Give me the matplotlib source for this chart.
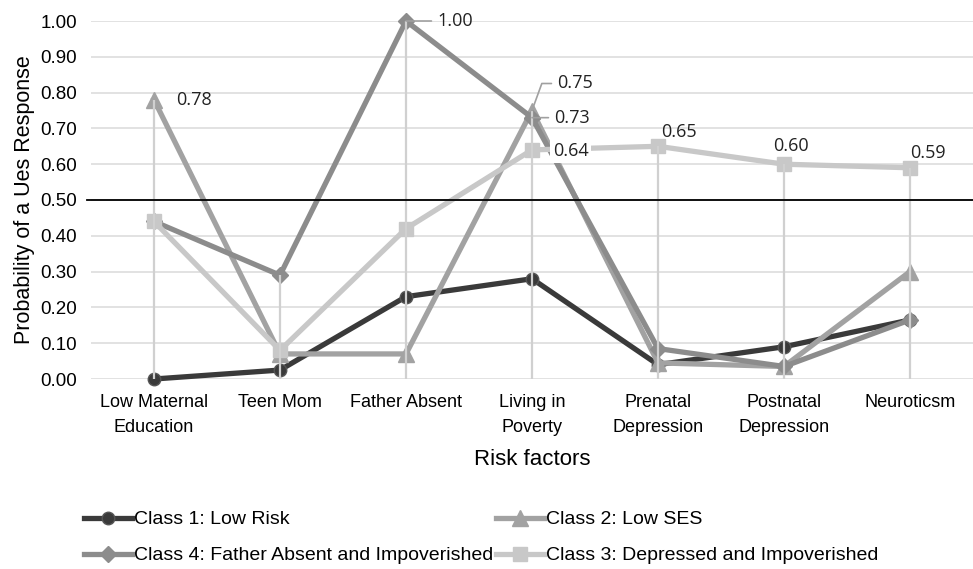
import matplotlib
matplotlib.use("Agg")
import matplotlib.pyplot as plt
from matplotlib import font_manager as fm

categories = ["Low Maternal\nEducation", "Teen Mom", "Father Absent", "Living in\nPoverty",
              "Prenatal\nDepression", "Postnatal\nDepression", "Neuroticsm"]
class1 = [0.00, 0.025, 0.23, 0.28, 0.04, 0.09, 0.165]
class2 = [0.78, 0.07, 0.07, 0.75, 0.045, 0.035, 0.30]
class4 = [0.44, 0.29, 1.00, 0.73, 0.085, 0.035, 0.165]
class3 = [0.44, 0.08, 0.42, 0.64, 0.65, 0.60, 0.59]
yticks = [0.0, 0.1, 0.2, 0.3, 0.4, 0.5, 0.6, 0.7, 0.8, 0.9, 1.0]
threshold = 0.50

names = {f.name for f in fm.fontManager.ttflist}
tick_font = "Liberation Sans" if "Liberation Sans" in names else "DejaVu Sans"
leg_font = "Liberation Sans Narrow" if "Liberation Sans Narrow" in names else tick_font
lab_font = "Open Sans" if "Open Sans" in names else "DejaVu Sans"

fig = plt.figure(figsize=(9.73, 5.69), dpi=100)
ax = fig.add_axes([91/973, 1-379/569, 1-91/973, (379-21)/569])
x = list(range(len(categories)))

for yv in yticks:
    ax.axhline(yv, color="#e2e2e2", lw=1.4, zorder=0)

c1 = "#3a3a3a"; c2 = "#a2a2a2"; c4 = "#8c8c8c"; c3 = "#c8c8c8"
lw = 3.8
l1, = ax.plot(x, class1, color=c1, lw=lw, marker="o", ms=9, mec="#555555", mfc=c1, clip_on=False, zorder=3, label="Class 1: Low Risk")
l2, = ax.plot(x, class2, color=c2, lw=lw, marker="^", ms=11, mec=c2, mfc=c2, clip_on=False, zorder=3, label="Class 2: Low SES")
l4, = ax.plot(x, class4, color=c4, lw=lw, marker="D", ms=8, mec=c4, mfc=c4, clip_on=False, zorder=3, label="Class 4: Father Absent and Impoverished")
l3, = ax.plot(x, class3, color=c3, lw=lw, marker="s", ms=10, mec=c3, mfc=c3, clip_on=False, zorder=3, label="Class 3: Depressed and Impoverished")

tops = [max(a, b, c, d) for a, b, c, d in zip(class1, class2, class4, class3)]
ax.vlines(x, 0, tops, color="#d0d0d0", lw=1.6, zorder=4)

ax.plot([-0.004, 1.0], [threshold, threshold], transform=ax.get_yaxis_transform(),
        color="black", lw=1.3, zorder=5, clip_on=False)

ax.set_xlim(-0.5, len(categories) - 0.5)
ax.set_ylim(0, 1.0)
ax.set_yticks(yticks)
ax.set_yticklabels([f"{v:.2f}" for v in yticks], fontsize=13.5, family=tick_font)
ax.set_xticks(x)
ax.set_xticklabels(categories, fontsize=13, family=tick_font, linespacing=1.6)
ax.tick_params(axis="x", length=0, pad=11)
ax.tick_params(axis="y", length=0, pad=10)
for s in ax.spines.values():
    s.set_visible(False)
ax.set_xlabel("Risk factors", fontsize=16, family=tick_font, labelpad=9)
ax.set_ylabel("Probability of a Ues Response", fontsize=15.5, family=tick_font, labelpad=4)

px = 0.72
fs = 13
def lab(xi, yv, dx, dy, ha="left", va="center", leader=None, box=False):
    kw = {}
    if leader:
        kw["arrowprops"] = dict(arrowstyle="-", color="#a0a0a0", lw=1.2,
                                connectionstyle=leader, shrinkA=2, shrinkB=0)
    if box:
        kw["bbox"] = dict(boxstyle="square,pad=0.15", fc="white", ec="none")
    ax.annotate(f"{yv:.2f}", (xi, yv), xytext=(dx*px, dy*px), textcoords="offset points",
                ha=ha, va=va, fontsize=fs, family=lab_font, color="#222222", zorder=6, **kw)

lab(0, class2[0], 22, 0)
lab(2, class4[2], 31, 0, leader="arc3")
lab(3, class2[3], 25, 27, leader="angle,angleA=0,angleB=70,rad=0")
lab(3, class4[3], 22, 0, leader="arc3")
lab(3, class3[3], 21, -1, box=True)
lab(4, class3[4], 3, 5, va="bottom")
lab(5, class3[5], 7, 18, ha="center")
lab(6, class3[6], 18, 15, ha="center")

leg = fig.legend(handles=[l1, l4, l2, l3], ncol=2, loc="upper left",
                 bbox_to_anchor=(76/973, 1-503/569), frameon=False,
                 prop={"family": leg_font, "size": 14.0}, handlelength=2.5,
                 handletextpad=0.1, columnspacing=0.1, labelspacing=0.95, borderaxespad=0)

fig.savefig("out.png", dpi=100)
